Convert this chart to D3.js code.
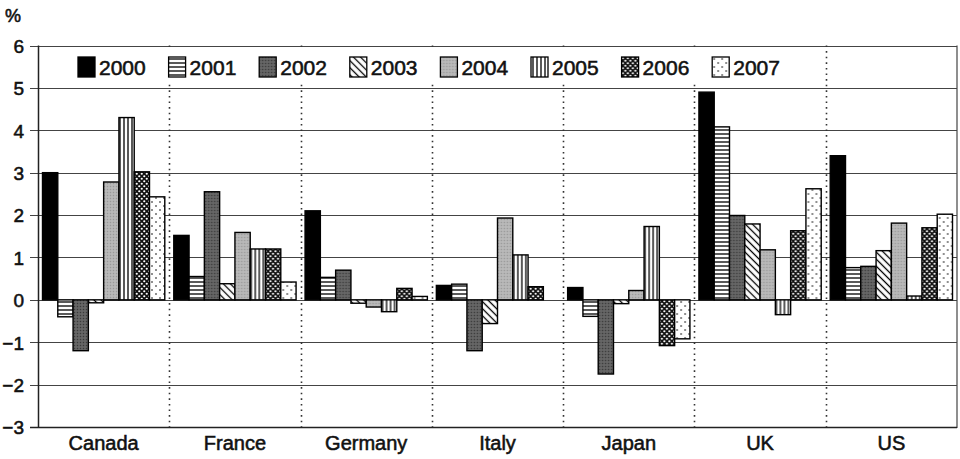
<!DOCTYPE html>
<html><head><meta charset="utf-8">
<script src="https://cdn.jsdelivr.net/npm/d3@7"></script>
<style>
body{margin:0;background:#fff;}
text{font-family:"Liberation Sans",Arial,sans-serif;fill:#111;stroke:#111;stroke-width:0.55px;}
</style></head>
<body><svg id="c" width="960" height="459"></svg>
<script>
const countries = ["Canada","France","Germany","Italy","Japan","UK","US"];
const years = ["2000","2001","2002","2003","2004","2005","2006","2007"];
const canada  = [3.0,-0.4,-1.2,-0.07,2.78,4.3,3.02,2.43];
const france  = [1.52,0.55,2.55,0.38,1.59,1.2,1.2,0.42];
const germany = [2.1,0.53,0.7,-0.08,-0.17,-0.28,0.27,0.08];
const italy   = [0.34,0.37,-1.2,-0.56,1.93,1.06,0.31,0.0];
const japan   = [0.29,-0.39,-1.75,-0.09,0.22,1.73,-1.08,-0.92];
const uk      = [4.9,4.08,1.99,1.79,1.18,-0.35,1.63,2.62];
const us      = [3.4,0.76,0.79,1.16,1.81,0.09,1.7,2.02];
const seriesByCountry = [canada,france,germany,italy,japan,uk,us];
const yTicks = [-3,-2,-1,0,1,2,3,4,5,6];

const svg = d3.select("#c");
const defs = svg.append("defs");
const L = 38, R = 957, T = 45.5, B = 427;

function pat(id, w, h, tf){
  const p = defs.append("pattern").attr("id",id).attr("patternUnits","userSpaceOnUse")
    .attr("width",w).attr("height",h);
  if (tf) p.attr("patternTransform",tf);
  return p;
}
let p;
p = pat("p2001",4,4); p.append("rect").attr("width",4).attr("height",4).attr("fill","#fff");
p.append("line").attr("x1",0).attr("x2",4).attr("y1",2).attr("y2",2).attr("stroke","#000").attr("stroke-width",1.3);
p = pat("p2002",3,3); p.append("rect").attr("width",3).attr("height",3).attr("fill","#5e5e5e");
p.append("rect").attr("x",0).attr("y",0).attr("width",1).attr("height",1).attr("fill","#3a3a3a");
p.append("rect").attr("x",1.5).attr("y",1.5).attr("width",1).attr("height",1).attr("fill","#7c7c7c");
p = pat("p2003",5,5,"rotate(-45)"); p.append("rect").attr("width",5).attr("height",5).attr("fill","#fff");
p.append("line").attr("x1",2.5).attr("x2",2.5).attr("y1",0).attr("y2",5).attr("stroke","#000").attr("stroke-width",1.3);
p = pat("p2004",3,3); p.append("rect").attr("width",3).attr("height",3).attr("fill","#b3b3b3");
p.append("rect").attr("x",0).attr("y",0).attr("width",1).attr("height",1).attr("fill","#999");
p.append("rect").attr("x",1.5).attr("y",1.5).attr("width",1).attr("height",1).attr("fill","#ccc");
p = pat("p2005",4,4); p.append("rect").attr("width",4).attr("height",4).attr("fill","#fff");
p.append("line").attr("y1",0).attr("y2",4).attr("x1",2).attr("x2",2).attr("stroke","#000").attr("stroke-width",1.3);
p = pat("p2006",5,5); p.append("rect").attr("width",5).attr("height",5).attr("fill","#111");
p.append("circle").attr("cx",1.25).attr("cy",1.25).attr("r",1.1).attr("fill","#fff");
p.append("circle").attr("cx",3.75).attr("cy",3.75).attr("r",1.1).attr("fill","#fff");
p = pat("p2007",8,8); p.append("rect").attr("width",8).attr("height",8).attr("fill","#fff");
p.append("circle").attr("cx",2).attr("cy",2).attr("r",0.8).attr("fill","#000");
p.append("circle").attr("cx",6).attr("cy",6).attr("r",0.8).attr("fill","#000");
const fills = ["#000","url(#p2001)","url(#p2002)","url(#p2003)","url(#p2004)","url(#p2005)","url(#p2006)","url(#p2007)"];

const x0 = d3.scaleBand().domain(countries).range([L,R]).padding(0);
const x1 = d3.scaleBand().domain(years).range([4.5, x0.bandwidth()-4.5]).padding(0);
const y = d3.scaleLinear().domain([-3,6]).range([B,T]);

svg.append("g").selectAll("line").data(yTicks).join("line")
  .attr("x1",30).attr("x2",R).attr("y1",d=>Math.round(y(d))+0.5).attr("y2",d=>Math.round(y(d))+0.5)
  .attr("stroke","#444").attr("stroke-width",1.2);

svg.append("g").selectAll("line").data(countries.slice(1)).join("line")
  .attr("x1",d=>Math.round(x0(d))+0.5).attr("x2",d=>Math.round(x0(d))+0.5)
  .attr("y1",T).attr("y2",B)
  .attr("stroke","#333").attr("stroke-width",1.6).attr("stroke-dasharray","1.6,4");

svg.append("rect").attr("x",L+2).attr("y",49).attr("width",775).attr("height",35).attr("fill","#fff");

svg.append("line").attr("x1",L+0.5).attr("x2",L+0.5).attr("y1",T).attr("y2",B+1).attr("stroke","#222").attr("stroke-width",1.5);
svg.append("line").attr("x1",R).attr("x2",R).attr("y1",T).attr("y2",B+1).attr("stroke","#444").attr("stroke-width",1.2);
svg.append("line").attr("x1",30).attr("x2",R).attr("y1",Math.round(y(-3))+0.5).attr("y2",Math.round(y(-3))+0.5).attr("stroke","#222").attr("stroke-width",1.5);

const gs = svg.append("g").selectAll("g").data(countries).join("g")
  .attr("transform",d=>`translate(${x0(d)},0)`);
gs.selectAll("rect").data((d,i)=>seriesByCountry[i].map((v,j)=>({v,j}))).join("rect")
  .attr("x",d=>x1(years[d.j]))
  .attr("width",x1.bandwidth())
  .attr("y",d=>y(Math.max(0,d.v)))
  .attr("height",d=>Math.abs(y(d.v)-y(0)))
  .attr("fill",d=>fills[d.j])
  .attr("stroke","#000").attr("stroke-width",1.4);

const yAxis = d3.axisLeft(y).tickValues(yTicks).tickSize(0).tickPadding(0)
  .tickFormat(d=>d<0?"\u2212"+Math.abs(d):String(d));
const ya = svg.append("g").attr("transform","translate(24,0)").call(yAxis);
ya.select(".domain").remove();
ya.selectAll("text").attr("font-size",19).attr("dy","0.36em").style("font-family","Liberation Sans, Arial, sans-serif").attr("fill","#111");

const xAxis = d3.axisBottom(x0).tickSize(0).tickPadding(0);
const xa = svg.append("g").attr("transform",`translate(0,${B+9})`).call(xAxis);
xa.select(".domain").remove();
xa.selectAll("text").attr("font-size",20).attr("dy","0.71em").style("font-family","Liberation Sans, Arial, sans-serif").attr("fill","#111");

svg.append("text").attr("x",5).attr("y",22).attr("font-size",18).text("%");

const lg = svg.append("g").selectAll("g").data(years).join("g")
  .attr("transform",(d,i)=>`translate(${78+i*90.6},57)`);
lg.append("rect").attr("width",17).attr("height",20).attr("fill",(d,i)=>fills[i]).attr("stroke","#000").attr("stroke-width",1.3);
lg.append("text").attr("x",21).attr("y",18).attr("font-size",21).text(d=>d);
</script></body></html>
